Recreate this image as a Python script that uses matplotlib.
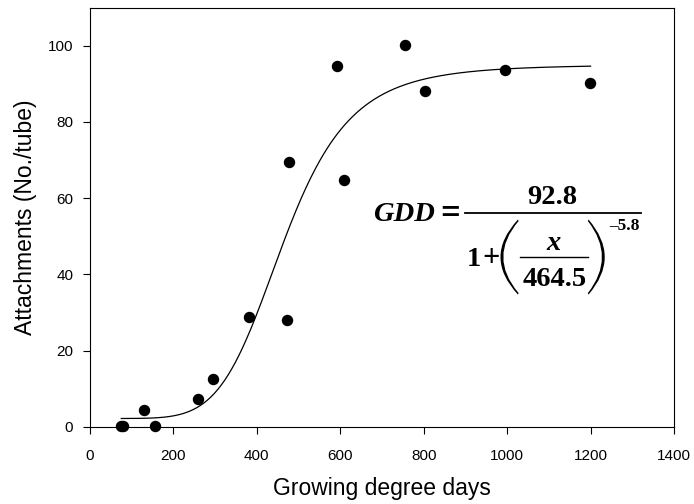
import matplotlib
matplotlib.use("Agg")
import matplotlib.pyplot as plt
from matplotlib.path import Path
from matplotlib.patches import PathPatch
import numpy as np

# Observed data
gdd = [75, 80, 129, 155, 258, 294, 380, 473, 477, 593, 608, 754, 802, 996, 1198]
attachments = [0.2, 0.2, 4.5, 0.2, 7.2, 12.6, 28.8, 28.1, 69.5, 94.8, 64.8, 100.2, 88.2, 93.5, 90.2]

# Fitted model parameters (as shown in the chart)
fit_a = 92.8
fit_x0 = 464.5
fit_b = -5.8
fit_y0 = 2.2
fit_range = (75, 1200)

x_ticks = [0, 200, 400, 600, 800, 1000, 1200, 1400]
y_ticks = [0, 20, 40, 60, 80, 100]

plt.rcParams['font.family'] = ['Liberation Sans', 'DejaVu Sans']

fig = plt.figure(figsize=(6.94, 5.04), dpi=100)
ax = fig.add_axes([90 / 694, 0.153, 584 / 694, 0.832])

xf = np.linspace(fit_range[0], fit_range[1], 400)
yf = fit_y0 + fit_a / (1 + (xf / fit_x0) ** fit_b)
ax.plot(xf, yf, color='black', lw=0.9)
ax.scatter(gdd, attachments, s=52, color='black', zorder=3, clip_on=False)

ax.set_xlim(0, 1400)
ax.set_ylim(0, 110)
ax.set_xticks(x_ticks)
ax.set_yticks(y_ticks)
ax.tick_params(direction='out', length=5, width=0.8, labelsize=11, pad=11)
ax.tick_params(axis='y', pad=7)
for s in ax.spines.values():
    s.set_linewidth(0.8)

ax.set_xlabel('Growing degree days', fontsize=16.5, labelpad=10)
ax.set_ylabel('Attachments (No./tube)', fontsize=16.5, labelpad=8)

# ---- Equation annotation ----
serif = dict(family='Liberation Serif', weight='bold', color='black')
big = 20.5
ax.text(678, 53.9, 'GDD', fontsize=big, style='italic', ha='left', va='baseline', **serif)
ax.text(864, 53.6, '=', fontsize=25, ha='center', va='baseline', **serif)
ax.text(1109, 58.6, f'{fit_a}', fontsize=big, ha='center', va='baseline', **serif)
ax.plot([899, 1321], [56.1, 56.1], color='black', lw=1.3)
ax.text(920, 42.1, '1', fontsize=big, ha='center', va='baseline', **serif)
ax.text(962, 42.1, '+', fontsize=22, ha='center', va='baseline', **serif)
ax.text(1112, 46.5, 'x', fontsize=big, style='italic', ha='center', va='baseline', **serif)
ax.plot([1032, 1195], [44.5, 44.5], color='black', lw=1.0)
ax.text(1113, 36.9, f'{fit_x0}', fontsize=big, ha='center', va='baseline', **serif)
ax.text(1244, 51.7, '\u2013' + f'{abs(fit_b)}', fontsize=12.5, ha='left', va='baseline', **serif)


def paren(x_tip, x_out, x_in, y_top, y_bot):
    ym = (y_top + y_bot) / 2
    c_out = 2 * x_out - x_tip
    c_in = 2 * x_in - x_tip
    d = (x_in - x_out) * 0.25
    verts = [(x_tip, y_top), (c_out, ym), (x_tip, y_bot),
             (x_tip + d, y_bot + 0.4), (c_in, ym), (x_tip + d, y_top - 0.4),
             (x_tip, y_top)]
    codes = [Path.MOVETO, Path.CURVE3, Path.CURVE3, Path.LINETO,
             Path.CURVE3, Path.CURVE3, Path.CLOSEPOLY]
    ax.add_patch(PathPatch(Path(verts, codes), facecolor='black', edgecolor='none'))


paren(1026, 984, 990, 54.4, 34.7)
paren(1195, 1234, 1228, 54.4, 34.7)

fig.savefig('out.png', dpi=100)
